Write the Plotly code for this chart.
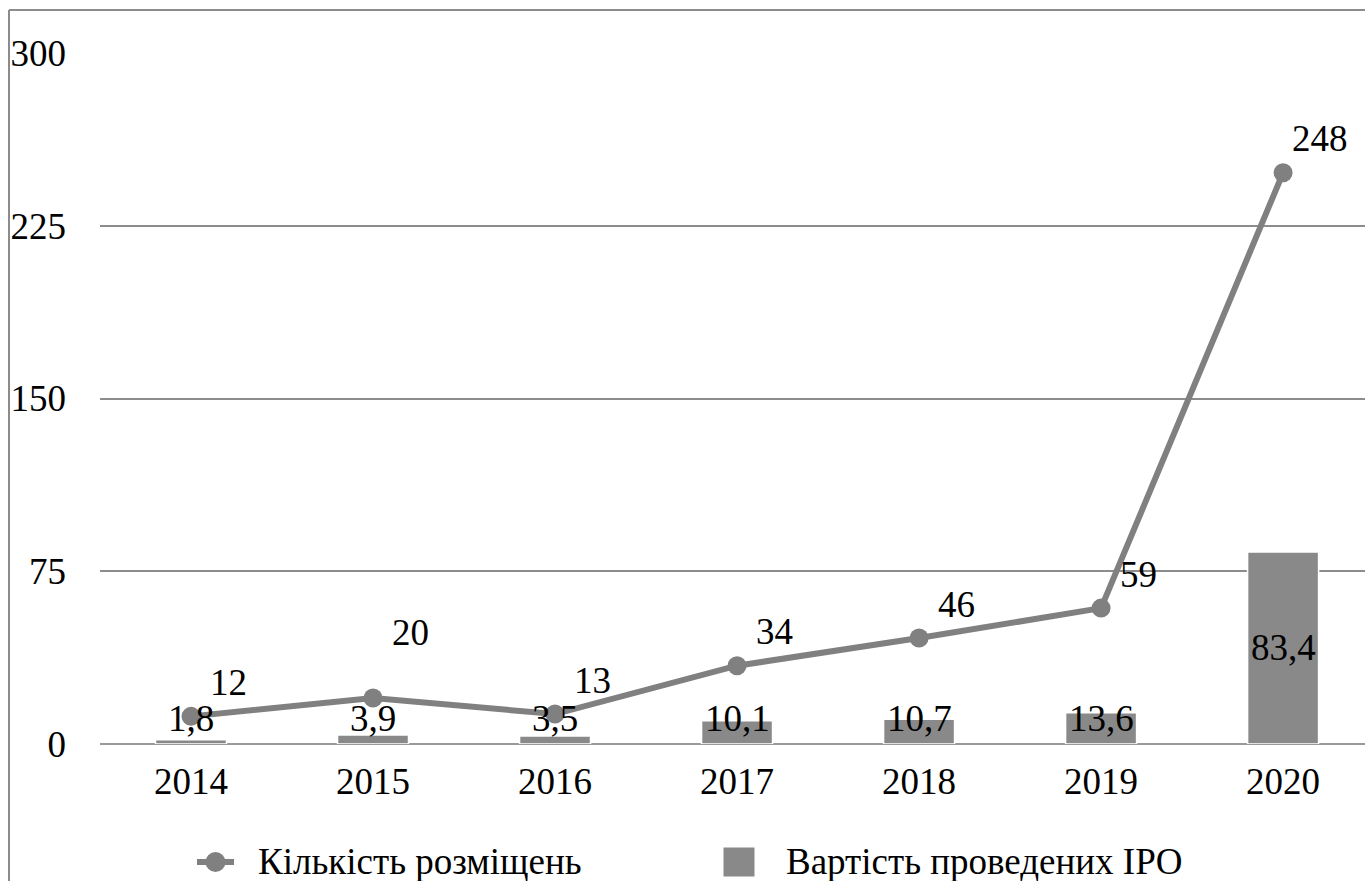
import plotly.graph_objects as go

# IPO activity by year
years = ["2014", "2015", "2016", "2017", "2018", "2019", "2020"]
placements = [12, 20, 13, 34, 46, 59, 248]          # Кількість розміщень
ipo_value = [1.8, 3.9, 3.5, 10.1, 10.7, 13.6, 83.4]  # Вартість проведених IPO
y_ticks = [0, 75, 150, 225, 300]

FONT = "Liberation Serif"
FS = 37
GRID = "#8c8c8c"
LINE = "#808080"
BAR = "#898989"

# plot-area geometry in pixels (used for the frame and the hand-made legend)
W, H = 1365, 881
ML, MT, MB = 100, 53, 137
PW, PH = W - ML, H - MT - MB


def px(xp):
    return (xp - ML) / PW


def py(yp):
    return (H - MB - yp) / PH


fig = go.Figure()

fig.add_trace(go.Bar(
    x=years, y=ipo_value, width=0.39,
    marker=dict(color=BAR, line=dict(color="white", width=1.5)),
    showlegend=False, hoverinfo="skip",
))

fig.add_trace(go.Scatter(
    x=years, y=placements, mode="lines+markers",
    line=dict(color=LINE, width=6),
    marker=dict(color=LINE, size=19),
    showlegend=False, hoverinfo="skip",
))


def tf():
    return dict(family=FONT, size=FS, color="black")


annotations = []
# line value labels, sitting up and to the right of each point
label_lift = [34, 65, 34, 34, 34, 34, 34]
for i, (v, lift) in enumerate(zip(placements, label_lift)):
    annotations.append(dict(
        x=i, y=v, text=str(v), showarrow=False,
        xshift=37, yshift=lift, font=tf(),
    ))
# bar value labels (decimal comma)
for i, v in enumerate(ipo_value):
    annotations.append(dict(
        x=i, y=max(v / 2, 11), text=f"{v}".replace(".", ","), showarrow=False,
        font=tf(),
    ))

# legend text
leg_y = 862
annotations.append(dict(
    xref="paper", yref="paper", x=px(256), y=py(leg_y), xanchor="left", yanchor="middle",
    text="Кількість розміщень", showarrow=False, font=tf(),
))
annotations.append(dict(
    xref="paper", yref="paper", x=px(784), y=py(leg_y), xanchor="left", yanchor="middle",
    text="Вартість проведених IPO", showarrow=False, font=tf(),
))

shapes = [
    # outer chart frame (left and top edges visible)
    dict(type="line", xref="paper", yref="paper", x0=px(9), x1=px(W + 20),
         y0=py(10), y1=py(10), line=dict(color=GRID, width=2)),
    dict(type="line", xref="paper", yref="paper", x0=px(9), x1=px(9),
         y0=py(10), y1=py(H + 20), line=dict(color=GRID, width=2)),
    # legend: line with marker
    dict(type="line", xref="paper", yref="paper", x0=px(197), x1=px(234),
         y0=py(leg_y), y1=py(leg_y), line=dict(color=LINE, width=6)),
    dict(type="circle", xref="paper", yref="paper", x0=px(205.5), x1=px(225.5),
         y0=py(leg_y + 10), y1=py(leg_y - 10), fillcolor=LINE, line=dict(width=0)),
    # legend: bar swatch
    dict(type="rect", xref="paper", yref="paper", x0=px(723), x1=px(755),
         y0=py(leg_y + 15), y1=py(leg_y - 15), fillcolor=BAR,
         line=dict(color="white", width=1)),
]

fig.update_layout(
    width=W, height=H,
    margin=dict(l=ML, r=0, t=MT, b=MB),
    paper_bgcolor="white", plot_bgcolor="white",
    font=tf(),
    annotations=annotations,
    shapes=shapes,
    showlegend=False,
)

fig.update_xaxes(
    type="category", range=[-0.5, 6.45],
    showgrid=False, showline=False, ticks="",
    ticklabelstandoff=12,
    tickfont=tf(),
)
fig.update_yaxes(
    range=[0, 300], tickvals=y_ticks,
    showgrid=True, gridcolor=GRID, gridwidth=2,
    zeroline=True, zerolinecolor="#9a9a9a", zerolinewidth=2,
    showline=False, ticks="",
    ticklabelstandoff=33,
    tickfont=tf(),
)

fig.write_html("out.html")
